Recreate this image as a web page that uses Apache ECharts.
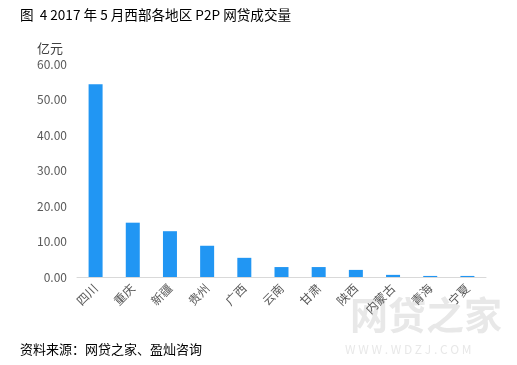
<!DOCTYPE html>
<html><head><meta charset="utf-8">
<script src="https://cdn.jsdelivr.net/npm/echarts@6/dist/echarts.min.js"></script>
<style>html,body{margin:0;padding:0;background:#fff}#c{width:517px;height:365px}</style>
</head><body><div id="c"></div>
<script>
var categories = ['四川','重庆','新疆','贵州','广西','云南','甘肃','陕西','内蒙古','青海','宁夏'];
var volumes = [54.3, 15.3, 12.9, 8.8, 5.4, 2.8, 2.8, 2.0, 0.6, 0.3, 0.3];
var yTicks = [0, 10, 20, 30, 40, 50, 60];
var titleText = '图  4 2017 年 5 月西部各地区 P2P 网贷成交量';
var sourceText = '资料来源：网贷之家、盈灿咨询';
var unitText = '亿元';

var FONT = '"Noto Sans CJK SC", "Microsoft YaHei", sans-serif';
var chart = echarts.init(document.getElementById('c'));
chart.setOption({
  animation: false,
  textStyle: {fontFamily: FONT},
  grid: {left: 77, right: 31, top: 64, bottom: 88},
  graphic: [
    {type:'text', left: 350, top: 296, z: 0, style:{text:'网贷之家', font:'bold 38px ' + FONT, fill:'#e8e8e8'}},
    {type:'text', left: 345, top: 343, z: 0, style:{text:'W W W . W D Z J . C O M', font:'12px ' + FONT, fill:'#e8e8e8'}},
    {type:'text', left: 20, top: 8, style:{text: titleText, font:'13.6px ' + FONT, fill:'#000'}},
    {type:'text', left: 37, top: 42, style:{text: unitText, font:'13px ' + FONT, fill:'#404040'}},
    {type:'text', left: 20, top: 343, style:{text: sourceText, font:'13px ' + FONT, fill:'#000'}}
  ],
  xAxis: {
    type: 'category',
    data: categories,
    axisLine: {lineStyle: {color: '#d9d9d9', width: 1}},
    axisTick: {show: false},
    axisLabel: {rotate: 45, color: '#595959', fontSize: 12, margin: 9, interval: 0}
  },
  yAxis: {
    type: 'value',
    min: yTicks[0],
    max: yTicks[yTicks.length-1],
    interval: yTicks[1]-yTicks[0],
    axisLine: {show: false},
    axisTick: {show: false},
    splitLine: {show: false},
    axisLabel: {color: '#595959', fontSize: 12, margin: 10, formatter: function(v){return v.toFixed(2);}}
  },
  series: [{
    type: 'bar',
    data: volumes,
    barWidth: 14,
    itemStyle: {color: '#2196f3'},
    z: 3
  }]
});
</script></body></html>
